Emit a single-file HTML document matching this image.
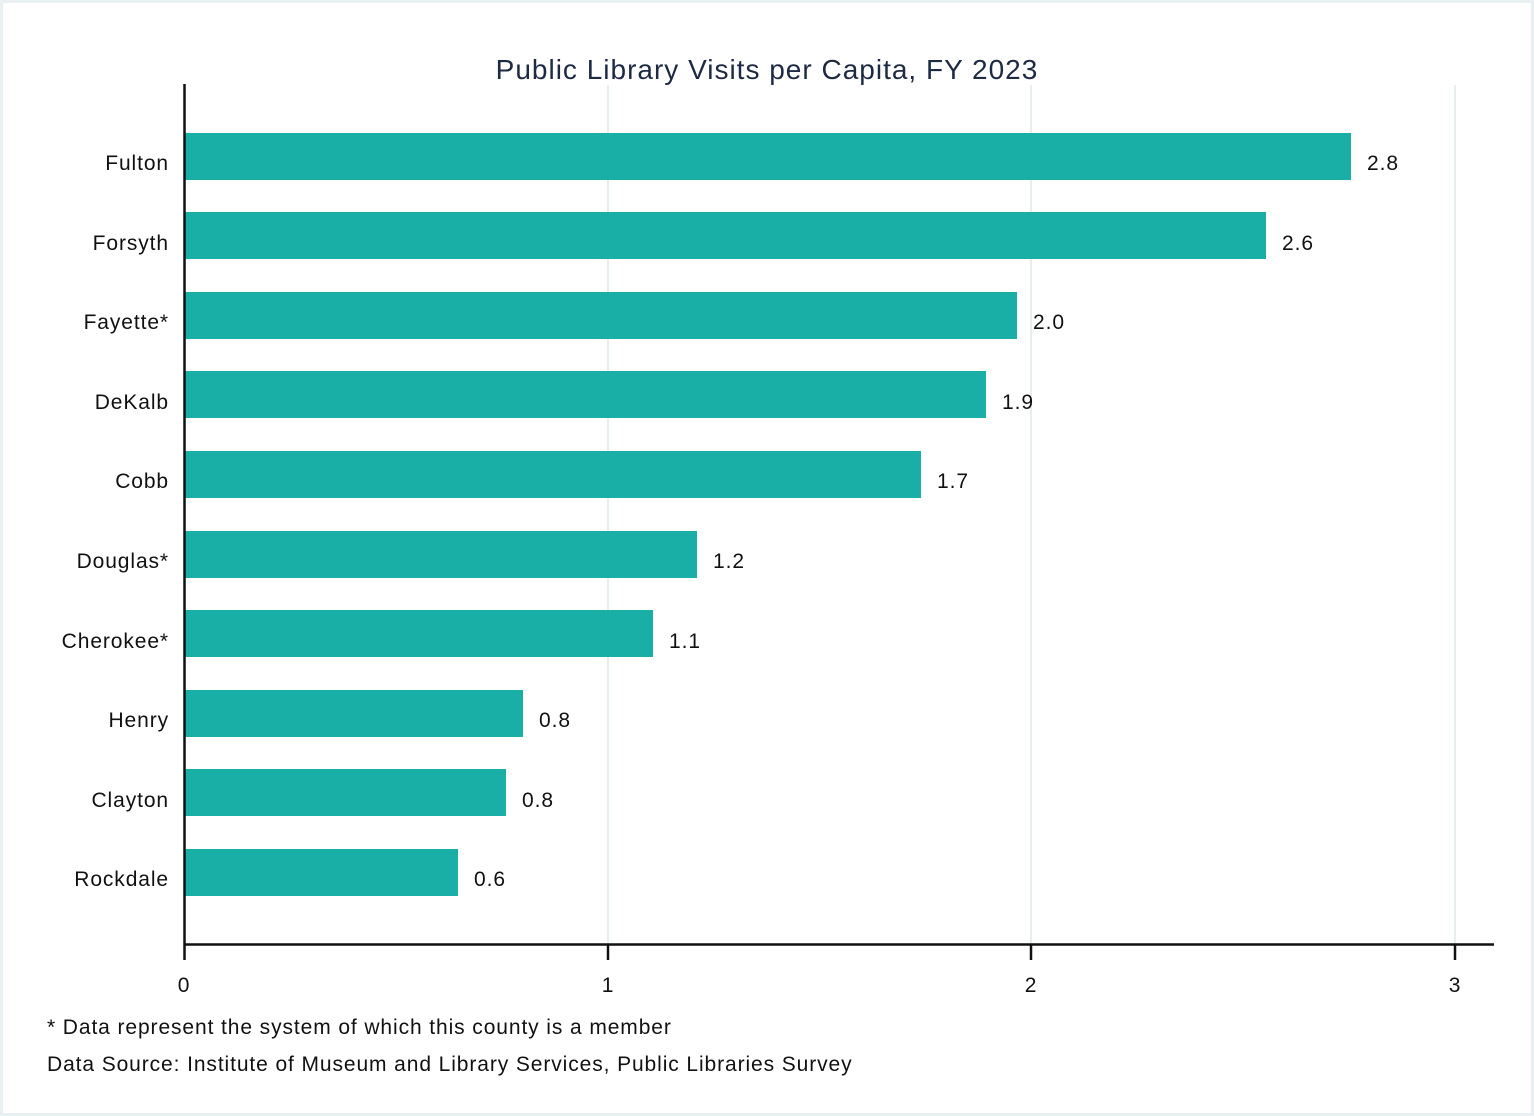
<!DOCTYPE html>
<html><head><style>
body{margin:0;background:#fff}
svg{display:block}
text{font-family:"Liberation Sans",sans-serif;fill:#111;letter-spacing:0.9px}
</style></head><body>
<svg width="1534" height="1116" xmlns="http://www.w3.org/2000/svg">
<rect x="1.5" y="1.5" width="1531" height="1113" fill="#fff" stroke="#e8f0f1" stroke-width="3"/>
<g stroke="#e6eeee" stroke-width="2">
<line x1="608" y1="85" x2="608" y2="944"/>
<line x1="1031" y1="85" x2="1031" y2="944"/>
<line x1="1455" y1="85" x2="1455" y2="944"/>
</g>
<text x="767" y="79" text-anchor="middle" font-size="28" style="fill:#1d2a44;letter-spacing:1px">Public Library Visits per Capita, FY 2023</text>
<g fill="#1aafa6">
<rect x="185" y="133" width="1166" height="47"/>
<rect x="185" y="212" width="1081" height="47"/>
<rect x="185" y="292" width="832" height="47"/>
<rect x="185" y="371" width="801" height="47"/>
<rect x="185" y="451" width="736" height="47"/>
<rect x="185" y="531" width="512" height="47"/>
<rect x="185" y="610" width="468" height="47"/>
<rect x="185" y="690" width="338" height="47"/>
<rect x="185" y="769" width="321" height="47"/>
<rect x="185" y="849" width="273" height="47"/>
</g>
<g font-size="21" text-anchor="end">
<text x="169" y="170">Fulton</text>
<text x="169" y="250">Forsyth</text>
<text x="169" y="329">Fayette*</text>
<text x="169" y="409">DeKalb</text>
<text x="169" y="488">Cobb</text>
<text x="169" y="568">Douglas*</text>
<text x="169" y="648">Cherokee*</text>
<text x="169" y="727">Henry</text>
<text x="169" y="807">Clayton</text>
<text x="169" y="886">Rockdale</text>
</g>
<g font-size="21">
<text x="1367" y="170">2.8</text>
<text x="1282" y="250">2.6</text>
<text x="1033" y="329">2.0</text>
<text x="1002" y="409">1.9</text>
<text x="937" y="488">1.7</text>
<text x="713" y="568">1.2</text>
<text x="669" y="648">1.1</text>
<text x="539" y="727">0.8</text>
<text x="522" y="807">0.8</text>
<text x="474" y="886">0.6</text>
</g>
<g stroke="#111" stroke-width="2.5">
<line x1="184.5" y1="84" x2="184.5" y2="960"/>
<line x1="184" y1="944.5" x2="1494" y2="944.5"/>
<line x1="608" y1="944" x2="608" y2="960"/>
<line x1="1031" y1="944" x2="1031" y2="960"/>
<line x1="1455" y1="944" x2="1455" y2="960"/>
</g>
<g font-size="21" text-anchor="middle">
<text x="184" y="992">0</text>
<text x="608" y="992">1</text>
<text x="1031" y="992">2</text>
<text x="1455" y="992">3</text>
</g>
<text x="47" y="1034" font-size="21">* Data represent the system of which this county is a member</text>
<text x="47" y="1071" font-size="21">Data Source: Institute of Museum and Library Services, Public Libraries Survey</text>
</svg>
</body></html>
